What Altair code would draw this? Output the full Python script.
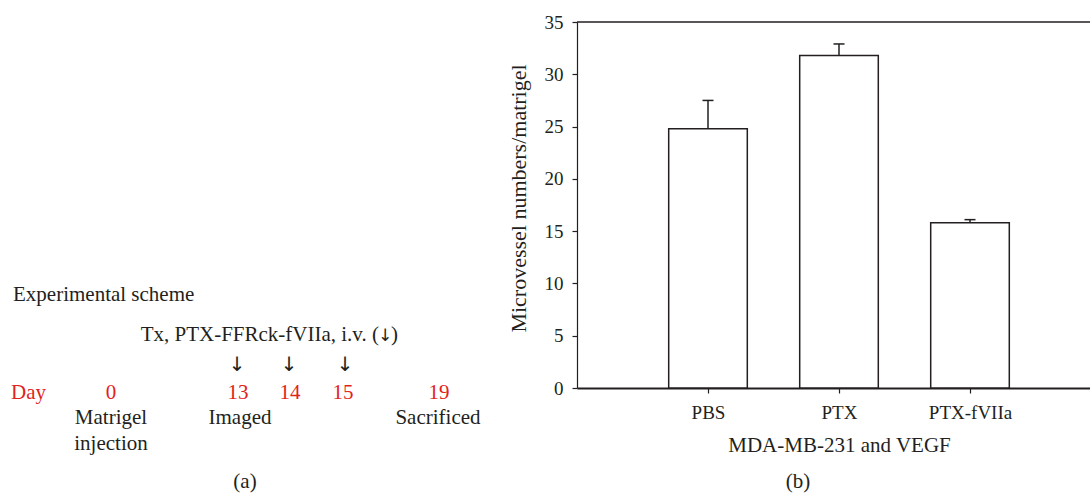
import altair as alt
import pandas as pd

# ---- panel (b) data ----
groups = ["PBS", "PTX", "PTX-fVIIa"]
means = [24.8, 31.8, 15.8]
upper = [27.5, 32.9, 16.1]
y_ticks = [0, 5, 10, 15, 20, 25, 30, 35]

# ---- panel (a) scheme texts ----
left_texts = ["Experimental scheme", "Day", ")"]
left_colors = ["#231f20", "#e2231a", "#231f20"]
right_texts = ["Tx, PTX-FFRck-fVIIa, i.v. ("]
right_colors = ["#231f20"]
center_texts = ["0", "13", "14", "15", "19",
                "Matrigel", "injection", "Imaged", "Sacrificed", "(a)", "(b)"]
center_colors = ["#e2231a"] * 5 + ["#231f20"] * 6
arrow_texts = ["↓", "↓", "↓", "↓"]
arrow_sizes = [20, 20, 20, 17]

# layout (pixel positions of the scheme/caption text within the figure)
left_px = [13, 11, 391]
left_py = [295, 393, 335]
right_px = [379]
right_py = [335]
center_px = [111, 238, 290, 343, 439, 111, 111, 240, 438, 245, 798]
center_py = [393, 393, 393, 393, 393, 418, 444, 418, 418, 482, 482]
arrow_px = [237, 289, 345, 385]
arrow_py = [365, 365, 365, 336]

FONT = "Liberation Serif"
ARROW_FONT = "DejaVu Sans"
INK = "#231f20"
W, H = 513, 366
PAD_L, PAD_T = 577, 22

df = pd.DataFrame({
    "group": groups,
    "pos": [i + 1 for i in range(len(groups))],
    "mean": means,
    "upper": upper,
})
df["x0"] = df["pos"] - 0.3
df["x1"] = df["pos"] + 0.3
df["c0"] = df["pos"] - 0.042
df["c1"] = df["pos"] + 0.042

xscale = alt.Scale(domain=[0, 3.916], nice=False, zero=False)
yscale = alt.Scale(domain=[0, 35], nice=False)

label_expr = "[" + ",".join("'" + g + "'" for g in groups) + "][datum.value - 1]"

bars = alt.Chart(df).mark_bar(fill="white", stroke=INK, strokeWidth=1.5).encode(
    x=alt.X("x0:Q", scale=xscale,
            axis=alt.Axis(values=[1, 2, 3], labelExpr=label_expr, title="MDA-MB-231 and VEGF",
                          tickSize=5, labelPadding=10, domainWidth=2.2, grid=False,
                          titlePadding=12, titleX=262, labelAngle=0, titleFontSize=21)),
    x2="x1:Q",
    y=alt.Y("mean:Q", scale=yscale,
            axis=alt.Axis(values=y_ticks, title="Microvessel numbers/matrigel",
                          tickSize=5, labelPadding=9, domainWidth=1.2, grid=False,
                          titlePadding=14, titleFontSize=22, titleY=176)),
    y2=alt.datum(0),
)

stems = alt.Chart(df).mark_rule(color=INK, strokeWidth=1.5).encode(
    x=alt.X("pos:Q", scale=xscale), y=alt.Y("mean:Q", scale=yscale), y2="upper:Q")
caps = alt.Chart(df).mark_rule(color=INK, strokeWidth=1.5).encode(
    x=alt.X("c0:Q", scale=xscale), x2="c1:Q", y=alt.Y("upper:Q", scale=yscale))
top = alt.Chart(pd.DataFrame({"v": [35]})).mark_rule(color=INK, strokeWidth=1.5).encode(
    y=alt.Y("v:Q", scale=yscale))

plot = alt.layer(bars, stems, caps, top)

pxs = alt.Scale(domain=[PAD_L, PAD_L + W], nice=False, zero=False)
pys = alt.Scale(domain=[PAD_T, PAD_T + H], nice=False, zero=False, reverse=True)


def text_layer(texts, colors, xs, ys, align):
    d = pd.DataFrame({"t": texts, "c": colors, "px": xs, "py": ys})
    return alt.Chart(d).mark_text(font=FONT, fontSize=21, align=align, baseline="middle").encode(
        x=alt.X("px:Q", scale=pxs, axis=None), y=alt.Y("py:Q", scale=pys, axis=None),
        text="t:N", color=alt.Color("c:N", scale=None))


arrow_df = pd.DataFrame({"t": arrow_texts, "s": arrow_sizes, "px": arrow_px, "py": arrow_py})
arrows = alt.Chart(arrow_df).mark_text(font=ARROW_FONT, align="center", baseline="middle",
                                       color=INK).encode(
    x=alt.X("px:Q", scale=pxs, axis=None), y=alt.Y("py:Q", scale=pys, axis=None),
    text="t:N", size=alt.Size("s:Q", scale=None))

scheme = alt.layer(
    text_layer(left_texts, left_colors, left_px, left_py, "left"),
    text_layer(right_texts, right_colors, right_px, right_py, "right"),
    text_layer(center_texts, center_colors, center_px, center_py, "center"),
    arrows,
)

chart = alt.layer(plot, scheme).resolve_scale(x="independent", y="independent").properties(
    width=W, height=H,
    padding={"left": PAD_L, "top": PAD_T, "right": 0, "bottom": 495 - PAD_T - H},
    autosize=alt.AutoSizeParams(type="none"),
    background="white",
).configure_view(stroke=None).configure_axis(
    labelFont=FONT, titleFont=FONT, labelFontSize=19, titleFontSize=20,
    titleFontWeight="normal", labelColor=INK, titleColor=INK,
    domainColor=INK, tickColor=INK, tickWidth=1.2,
)

chart.save("out.html", embed_options={"renderer": "svg", "actions": False})
